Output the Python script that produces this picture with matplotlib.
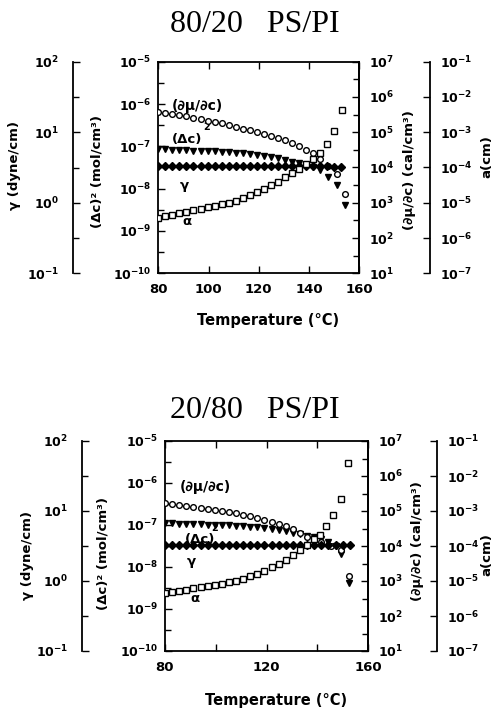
import numpy as np
import matplotlib
matplotlib.use("Agg")
import matplotlib.pyplot as plt
from matplotlib.ticker import FixedLocator, FuncFormatter, NullFormatter

plt.rcParams['font.family'] = ['DejaVu Sans']
plt.rcParams['font.weight'] = 'bold'
plt.rcParams['mathtext.fontset'] = 'dejavusans'

# temperatures (deg C) shared by the smooth part of every curve
T_base = [80, 82.8, 85.6, 88.4, 91.2, 94, 96.8, 99.6, 102.4, 105.2, 108,
          110.8, 113.6, 116.4, 119.2, 122, 124.8, 127.6, 130.4, 133.2, 136, 138.8]

# ---- 80/20 PS/PI (values are log10 of each quantity) ----
top_dmu_T = T_base + [141.6, 144.4, 147.7, 151, 154.3]
top_dmu = [5.57, 5.54, 5.51, 5.48, 5.45, 5.41, 5.37, 5.33, 5.29, 5.25, 5.20,
           5.16, 5.10, 5.05, 5.00, 4.94, 4.88, 4.83, 4.77, 4.70, 4.62, 4.51,
           4.40, 4.24, 4.04, 3.82, 3.25]
top_dc2_T = T_base + [141.6, 144.4, 147.7, 151, 154.3]
top_dc2 = [-7.07, -7.07, -7.08, -7.09, -7.09, -7.10, -7.11, -7.12, -7.12, -7.13, -7.14,
           -7.15, -7.16, -7.18, -7.20, -7.22, -7.25, -7.28, -7.32, -7.36, -7.40, -7.44,
           -7.48, -7.56, -7.72, -7.91, -8.39]
top_gam_T = T_base + [141.6, 144.4, 147.2, 150, 152.8]
top_gam = [0.52] * 22 + [0.52, 0.52, 0.515, 0.51, 0.505]
top_alp_T = T_base + [141.6, 144.4, 147.2, 150, 153.2]
top_alp = [-5.42, -5.38, -5.34, -5.30, -5.26, -5.21, -5.17, -5.12, -5.08, -5.04, -5.00,
           -4.94, -4.87, -4.79, -4.70, -4.61, -4.51, -4.40, -4.28, -4.17, -4.04, -3.91,
           -3.76, -3.59, -3.33, -2.97, -2.36]

# ---- 20/80 PS/PI ----
bot_dmu_T = T_base + [141.6, 145.5, 149.2, 152.6]
bot_dmu = [5.22, 5.20, 5.17, 5.15, 5.12, 5.09, 5.06, 5.03, 5.00, 4.97, 4.93,
           4.89, 4.85, 4.80, 4.75, 4.70, 4.64, 4.57, 4.49, 4.37, 4.27, 4.19,
           4.12, 4.00, 3.88, 3.14]
bot_dc2_T = T_base + [141.6, 144.4, 147.2, 149.2, 152.6]
bot_dc2 = [-6.96, -6.96, -6.97, -6.97, -6.98, -6.98, -6.99, -6.99, -7.00, -7.01, -7.02,
           -7.03, -7.04, -7.05, -7.07, -7.09, -7.11, -7.14, -7.18, -7.21, -7.25, -7.29,
           -7.34, -7.40, -7.50, -7.68, -8.38]
bot_gam_T = T_base + [141.6, 144.4, 147.2, 150, 152.8]
bot_gam = [0.52] * 22 + [0.52, 0.52, 0.52, 0.515, 0.515]
bot_alp_T = T_base + [140.9, 143.4, 146.3, 149.2, 152.2]
bot_alp = [-5.35, -5.32, -5.28, -5.25, -5.21, -5.18, -5.15, -5.12, -5.08, -5.04, -4.99,
           -4.93, -4.86, -4.79, -4.70, -4.61, -4.51, -4.39, -4.26, -4.12, -3.97, -3.81,
           -3.69, -3.44, -3.11, -2.65, -1.63]

W, H = 494, 715
fig = plt.figure(figsize=(W / 100, H / 100), dpi=100)


def fmt(v, pos):
    return r'$\mathbf{10^{%d}}$' % int(round(np.log10(v)))


def log_axis(ax, lo, hi, half=True, pad=4):
    ax.set_yscale('log')
    ax.set_ylim(10.0 ** lo, 10.0 ** hi)
    ax.yaxis.set_major_locator(FixedLocator([10.0 ** k for k in range(lo, hi + 1)]))
    minors = [10.0 ** (k + 0.5) for k in range(lo, hi)] if half else []
    ax.yaxis.set_minor_locator(FixedLocator(minors))
    ax.yaxis.set_major_formatter(FuncFormatter(fmt))
    ax.yaxis.set_minor_formatter(NullFormatter())
    ax.tick_params(axis='y', which='both', direction='in', width=1.0, labelsize=9, pad=pad)
    ax.tick_params(axis='y', which='major', length=5)
    ax.tick_params(axis='y', which='minor', length=4)


def panel(box, g_x, a_x, title, title_y, xticks, xminor, series, labels, notes, temp_y):
    l, t, r, b = box
    ax = fig.add_axes([l / W, 1 - b / H, (r - l) / W, (b - t) / H])
    ax.set_xlim(80, 160)
    log_axis(ax, -10, -5, pad=5)
    ax.set_xticks(xticks)
    ax.set_xticks(xminor, minor=True)
    ax.tick_params(axis='x', which='both', direction='in', top=True, length=5,
                   width=1.0, labelsize=9.5, pad=7)
    for s in ax.spines.values():
        s.set_linewidth(1.3)

    ax_r = ax.twinx()
    log_axis(ax_r, 1, 7, pad=7)
    ax_r.spines['right'].set_linewidth(1.3)

    ax_g = ax.twinx()
    ax_g.yaxis.set_ticks_position('left')
    ax_g.yaxis.set_label_position('left')
    ax_g.spines['left'].set_position(('axes', (g_x - l) / (r - l)))
    log_axis(ax_g, -1, 2, pad=10)

    ax_a = ax.twinx()
    ax_a.spines['right'].set_position(('axes', (a_x - l) / (r - l)))
    log_axis(ax_a, -7, -1, half=False, pad=7)

    for a in (ax_r, ax_g, ax_a):
        for k in ('top', 'bottom'):
            a.spines[k].set_visible(False)
    ax_r.spines['left'].set_visible(False)
    ax_g.spines['right'].set_visible(False)
    ax_a.spines['left'].set_visible(False)
    for a in (ax_g, ax_a):
        for s in a.spines.values():
            s.set_linewidth(1.3)

    (dmu_T, dmu), (dc2_T, dc2), (gam_T, gam), (alp_T, alp) = series
    ax_r.plot(dmu_T, 10.0 ** np.array(dmu), 'o', ms=4.1, mfc='white', mec='black', mew=1.0)
    ax.plot(dc2_T, 10.0 ** np.array(dc2), 'v', ms=4.8, color='black')
    ax_g.plot(gam_T, 10.0 ** np.array(gam), 'D', ms=3.6, color='black')
    ax_a.plot(alp_T, 10.0 ** np.array(alp), 's', ms=3.8, mfc='white', mec='black', mew=1.0)

    # axis titles (pixel x, pixel y centre)
    for text, px, py in labels:
        ax.text((px - l) / (r - l), (b - py) / (b - t), text, transform=ax.transAxes,
                rotation=90, ha='center', va='center', fontsize=9.5, clip_on=False)
    for text, px, py, fs in notes:
        ax.text((px - l) / (r - l), (b - py) / (b - t), text, transform=ax.transAxes,
                ha='left', va='center', fontsize=fs)
    ax.text(0.5 + 0.045, (b - temp_y) / (b - t), 'Temperature (°C)', transform=ax.transAxes,
            ha='center', va='center', fontsize=10.5)
    fig.text(0.515, 1 - title_y / H, title, family='Liberation Serif', weight='normal',
             fontsize=23, ha='center', va='center')


panel((158.3, 61.7, 359.3, 273.3), 73, 430, '80/20   PS/PI', 25,
      [80, 100, 120, 140, 160], [],
      [(top_dmu_T, top_dmu), (top_dc2_T, top_dc2), (top_gam_T, top_gam), (top_alp_T, top_alp)],
      [('γ (dyne/cm)', 15, 165), ('(Δc)² (mol/cm³)', 97, 171),
       ('(∂μ/∂c) (cal/cm³)', 410, 170), ('a(cm)', 487, 157)],
      [('(∂μ/∂c)', 172, 106, 10), ('(Δc)', 172, 140, 9.5), ('2', 203, 127, 7),
       ('γ', 180, 185, 9.5), ('α', 182, 222, 9.5)], 321)

panel((165, 441, 368, 651), 82, 437, '20/80   PS/PI', 410,
      [80, 120, 160], [100, 140],
      [(bot_dmu_T, bot_dmu), (bot_dc2_T, bot_dc2), (bot_gam_T, bot_gam), (bot_alp_T, bot_alp)],
      [('γ (dyne/cm)', 28, 555), ('(Δc)² (mol/cm³)', 103, 553),
       ('(∂μ/∂c) (cal/cm³)', 417, 541), ('a(cm)', 487, 555)],
      [('(∂μ/∂c)', 180, 487, 10), ('(Δc)', 185, 540, 9.5), ('2', 211, 528, 7),
       ('γ', 187, 562, 9.5), ('α', 190, 598, 9.5)], 700)

fig.savefig('out.png', dpi=100)
